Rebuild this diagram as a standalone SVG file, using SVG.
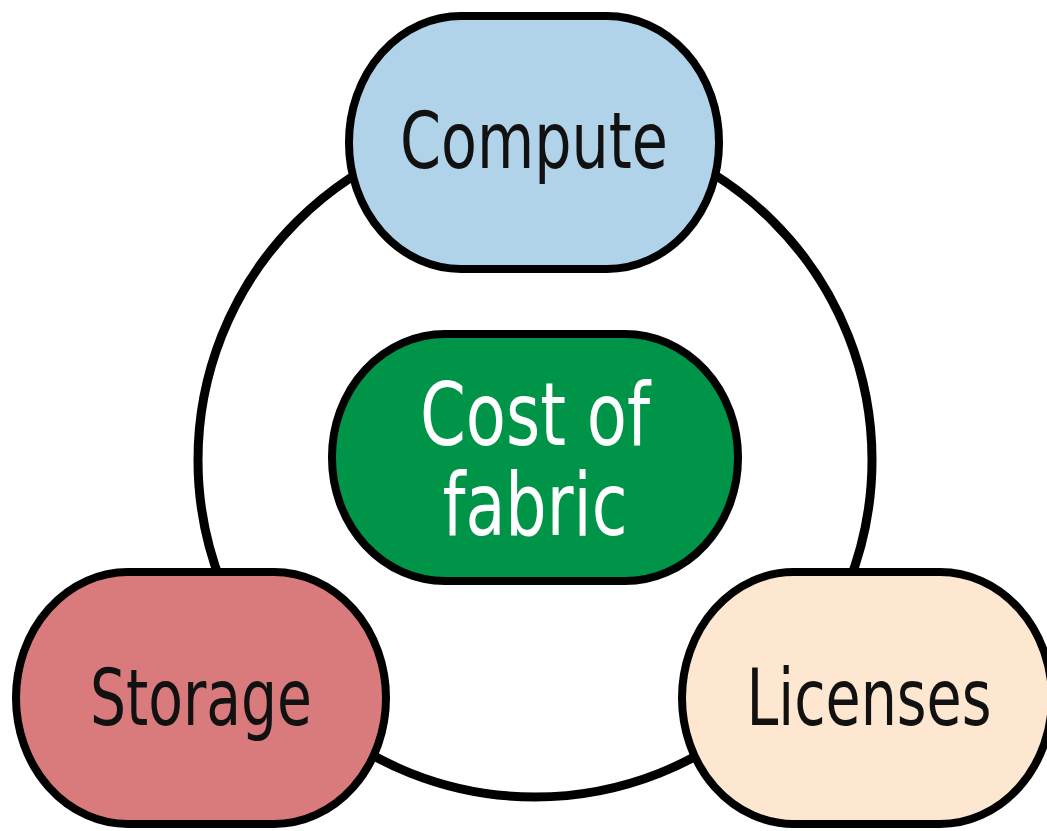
<svg xmlns="http://www.w3.org/2000/svg" width="1047" height="831" viewBox="0 0 1047 831">
  <style>
    .node { stroke: #000; stroke-width: 8; }
    .ring { fill: none; stroke: #000; stroke-width: 9; }
    .label { font-family: "Liberation Sans Narrow", "DejaVu Sans Condensed", "Liberation Sans", sans-serif; font-stretch: condensed; text-anchor: middle; }
    .dark { fill: #111; font-size: 78px; }
    .light { fill: #fff; font-size: 88px; }
  </style>
  <rect width="1047" height="831" fill="#fff"/>

  <!-- ring linking the three cost factors -->
  <g id="connectors">
    <circle class="ring" cx="535" cy="460" r="337"/>
  </g>

  <g id="compute">
    <rect class="node" x="349" y="16" width="370" height="253" rx="112" ry="126" fill="#b1d3ea"/>
    <text class="label dark" x="534" y="168" textLength="268" lengthAdjust="spacingAndGlyphs">Compute</text>
  </g>

  <g id="cost-of-fabric">
    <rect class="node" x="332" y="334" width="406" height="247" rx="113" ry="123" fill="#009448"/>
    <text class="label light" x="535" y="445" textLength="230" lengthAdjust="spacingAndGlyphs">Cost of</text>
    <text class="label light" x="535" y="535" textLength="185" lengthAdjust="spacingAndGlyphs">fabric</text>
  </g>

  <g id="storage">
    <rect class="node" x="16" y="572" width="370" height="252" rx="112" ry="126" fill="#d97b7d"/>
    <text class="label dark" x="201" y="725" textLength="222" lengthAdjust="spacingAndGlyphs">Storage</text>
  </g>

  <g id="licenses">
    <rect class="node" x="682" y="572" width="370" height="252" rx="112" ry="126" fill="#fde7d0"/>
    <text class="label dark" x="869" y="725" textLength="245" lengthAdjust="spacingAndGlyphs">Licenses</text>
  </g>
</svg>
